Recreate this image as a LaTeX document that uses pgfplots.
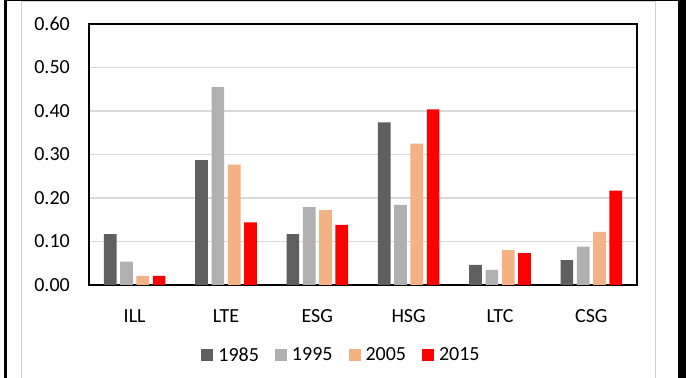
\documentclass[border=0pt]{standalone}
\usepackage{fontspec}
\setmainfont{Carlito}
\usepackage{pgfplots}
\pgfplotsset{compat=1.18}
\definecolor{c85}{HTML}{5F5F5F}
\definecolor{c95}{HTML}{B0B0B0}
\definecolor{c05}{HTML}{F4B183}
\definecolor{c15}{HTML}{FF0000}
\definecolor{gridc}{HTML}{D9D9D9}
\definecolor{framec}{HTML}{D0D0D0}
\begin{document}
\begin{tikzpicture}
\path[use as bounding box] (0,0) rectangle (686bp,378bp);
% outer frame
\fill[black] (3.5bp,0) rectangle (6.5bp,378bp);
\fill[black] (678bp,0) rectangle (686bp,378bp);
\fill[black] (3.5bp,376.7bp) rectangle (686bp,378bp);
\draw[framec, line width=1bp] (21bp,0) -- (21bp,376.2bp) -- (655.5bp,376.2bp) -- (655.5bp,0);
\begin{axis}[
  at={(89bp,93bp)}, anchor=south west,
  scale only axis, width=548bp, height=261bp,
  font=\fontsize{20bp}{24bp}\selectfont,
  ybar=3.6bp, bar width=12.7bp,
  xmin=-0.5, xmax=5.5,
  ymin=0, ymax=0.6,
  ytick={0,0.1,0.2,0.3,0.4,0.5,0.6},
  xtick={0,1,2,3,4,5},
  xticklabels={ILL,LTE,ESG,HSG,LTC,CSG},
  major tick length=0pt,
  ymajorgrids, grid style={gridc, line width=1.2bp},
  axis line style={black, line width=1.1bp},
  axis on top=false,
  /pgf/number format/assume math mode=true,
  yticklabel style={/pgf/number format/.cd, fixed, fixed zerofill, precision=2, /tikz/.cd, inner sep=0pt, xshift=-19bp},
  xticklabel style={inner sep=0pt, yshift=-24bp},
  legend columns=4,
  legend style={draw=none, fill=none, at={(0.4608,-0.268)}, anchor=center,
    font=\fontsize{20bp}{24bp}\selectfont,
    /tikz/every odd column/.append style={column sep=3bp},
    /tikz/every even column/.append style={column sep=14bp}},
  legend image code/.code={\fill[#1] (0bp,-6bp) rectangle (12bp,6bp);},
]
\addplot[fill=c85, draw=none] coordinates {(0,0.117) (1,0.287) (2,0.117) (3,0.374) (4,0.046) (5,0.057)};
\addplot[fill=c95, draw=none] coordinates {(0,0.054) (1,0.455) (2,0.179) (3,0.184) (4,0.035) (5,0.088)};
\addplot[fill=c05, draw=none] coordinates {(0,0.021) (1,0.277) (2,0.172) (3,0.325) (4,0.080) (5,0.122)};
\addplot[fill=c15, draw=none] coordinates {(0,0.021) (1,0.144) (2,0.138) (3,0.404) (4,0.073) (5,0.217)};
\legend{1985,1995,2005,2015}
\end{axis}
\end{tikzpicture}
\end{document}
